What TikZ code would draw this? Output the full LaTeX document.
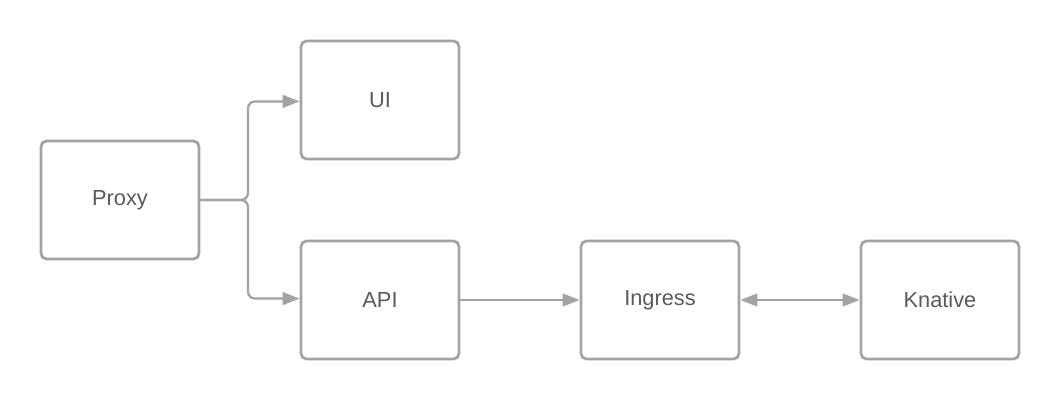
\documentclass[tikz,border=0pt]{standalone}
\usepackage{fontspec}
\setmainfont{Liberation Sans}
\usepackage{tikz}
\usetikzlibrary{positioning,arrows.meta}
\usepackage{xcolor}
\definecolor{linegray}{HTML}{A3A3A3}
\definecolor{textgray}{HTML}{5A5A5A}
\tikzstyle{block}=[rectangle, draw=linegray, line width=2pt, rounded corners=4pt,
minimum width=3.95cm, minimum height=2.95cm, text=textgray, font=\fontsize{15.5}{18}\selectfont]
\tikzstyle{link}=[draw=linegray, line width=1.6pt, rounded corners=5pt,
-{Triangle[length=12pt,width=9pt]}]

\begin{document}
\begin{tikzpicture}[x=0.025cm,y=-0.025cm]
            \useasboundingbox (0,0) rectangle (1060,400);
            \node (proxy)[block] at (120,200) {Proxy};
            \node (ui)[block] at (380,100) {UI};
            \node (api)[block] at (380,300) {API};
            \node (ingress)[block] at (660,300) {Ingress};
            \node (knative)[block] at (940,300) {Knative};
            \coordinate (split) at (248,200);
            \draw[link] (proxy.east) -- (split) |- ([yshift=-1pt]ui.west);
            \draw[link] (proxy.east) -- (split) |- ([yshift=1pt]api.west);
            \draw[link] (api.east) -- (ingress.west);
            \draw[link, {Triangle[length=12pt,width=9pt]}-{Triangle[length=12pt,width=9pt]}] (ingress.east) -- (knative.west);
        \end{tikzpicture}
\end{document}
